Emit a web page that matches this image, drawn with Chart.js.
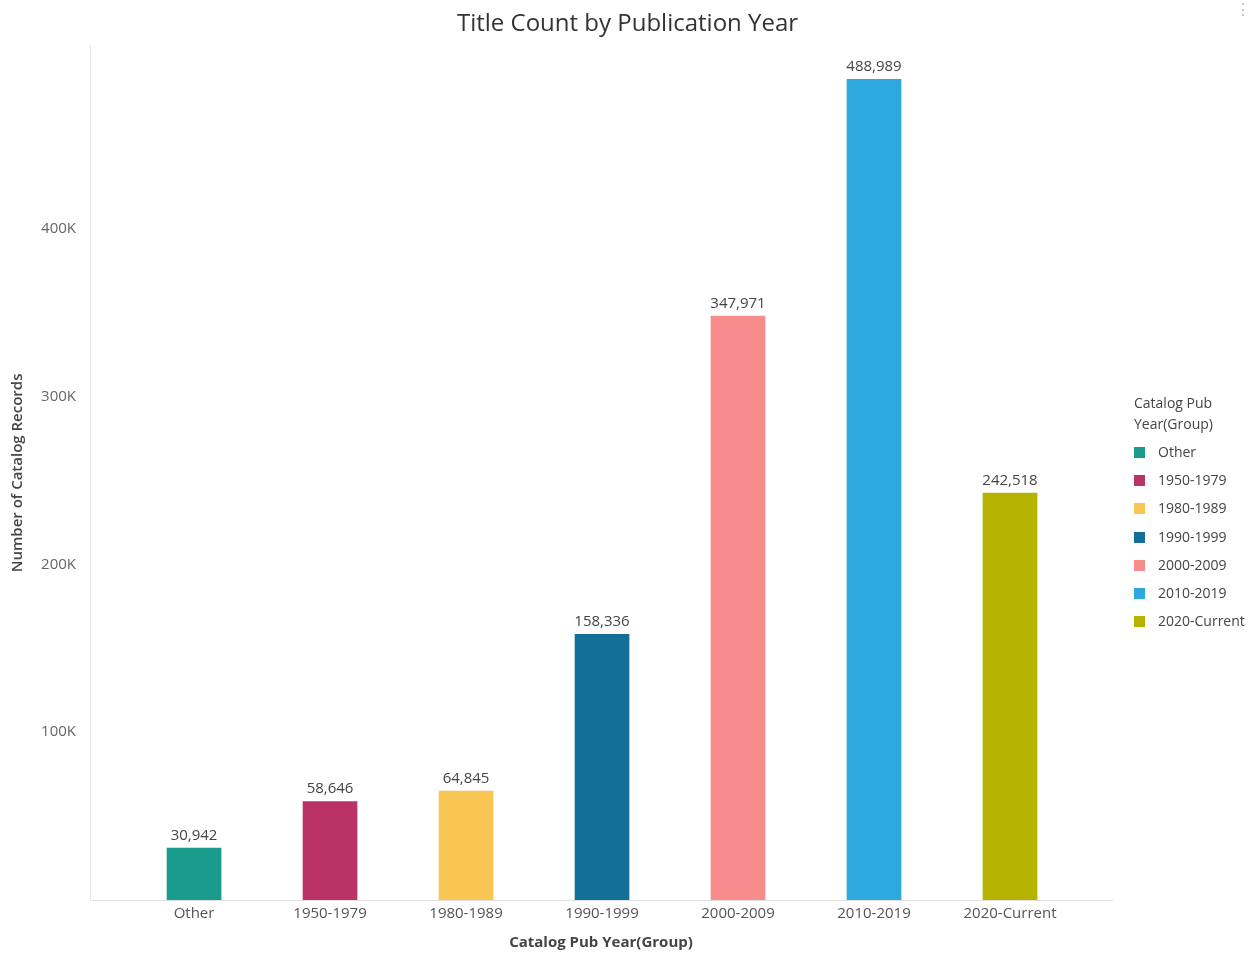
<!DOCTYPE html>
<html>
<head>
<meta charset="utf-8">
<title>Title Count by Publication Year</title>
<script src="https://cdn.jsdelivr.net/npm/chart.js@4.4.1/dist/chart.umd.min.js"></script>
<style>
  html, body { margin: 0; padding: 0; background: #fff; }
  body { width: 1255px; height: 954px; position: relative; overflow: hidden; font-family: "Open Sans", sans-serif; }
  #wrap { position: absolute; left: 0; top: 0; width: 1255px; height: 954px; }
  .legend { position: absolute; left: 1134px; top: 392px; width: 120px; color: #444; font-size: 14px; }
  .legend .ttl { line-height: 21px; width: 100px; margin-bottom: 9px; }
  .legend .item { height: 28.2px; line-height: 17px; white-space: nowrap; }
  .legend .sw { display: inline-block; width: 11px; height: 11px; margin-right: 13px; vertical-align: -1px; }
  .dots { position: absolute; right: 4px; top: -2px; color: #bbb; font-size: 16px; }
</style>
</head>
<body>
<div id="wrap"><canvas id="myChart" width="1255" height="954"></canvas></div>
<div class="legend" id="legend"></div>
<div class="dots">⋮</div>
<script>
// data
const categories = ['Other', '1950-1979', '1980-1989', '1990-1999', '2000-2009', '2010-2019', '2020-Current'];
const counts = [30942, 58646, 64845, 158336, 347971, 488989, 242518];
const colors = ['#1a9c8c', '#bb3366', '#f9c654', '#136f97', '#f78c8c', '#2ea9dd', '#b5b300'];
const yTicks = [100000, 200000, 300000, 400000];
const yTickLabels = ['100K', '200K', '300K', '400K'];

const ctx = document.getElementById('myChart');

// legend on the right
const legend = document.getElementById('legend');
legend.innerHTML = '<div class="ttl">Catalog Pub Year(Group)</div>' +
    categories.map((c, i) => `<div class="item"><span class="sw" style="background:${colors[i]}"></span>${c}</div>`).join('');

// value labels above bars
const barLabels = {
    id: 'barLabels',
    afterDatasetsDraw(chart) {
        const c = chart.ctx;
        const meta = chart.getDatasetMeta(0);
        c.save();
        c.font = '15px "Open Sans"';
        c.fillStyle = '#444';
        c.textAlign = 'center';
        c.textBaseline = 'bottom';
        meta.data.forEach((bar, i) => {
            c.fillText(counts[i].toLocaleString('en-US'), bar.x, bar.y - 5);
        });
        c.restore();
    }
};

new Chart(ctx, {
    type: 'bar',
    data: {
        datasets: [{
            data: categories.map((c, i) => ({ x: i, y: counts[i] })),
            backgroundColor: colors,
            barThickness: 54,
            borderWidth: 0
        }]
    },
    plugins: [barLabels],
    options: {
        responsive: false,
        animation: false,
        layout: { padding: 0 },
        plugins: {
            legend: { display: false },
            tooltip: { enabled: false },
            title: {
                display: true,
                text: 'Title Count by Publication Year',
                color: '#333',
                font: { family: 'Open Sans', size: 24, weight: 'normal' },
                padding: { top: 10, bottom: 7 }
            }
        },
        scales: {
            x: {
                type: 'linear',
                min: -0.765,
                max: 6.75,
                offset: false,
                grid: { display: false, drawTicks: false, offset: false },
                border: { display: true, color: '#e2e2e2', width: 1 },
                afterBuildTicks: (s) => { s.ticks = categories.map((c, i) => ({ value: i })); },
                afterFit: (s) => { s.height = 54; },
                ticks: {
                    autoSkip: false,
                    maxRotation: 0,
                    padding: 5,
                    color: '#555',
                    font: { family: 'Open Sans', size: 15 },
                    callback: (v) => categories[v]
                },
                title: {
                    display: true,
                    text: 'Catalog Pub Year(Group)',
                    color: '#444',
                    font: { family: 'Open Sans', size: 15, weight: 'bold' },
                    padding: { top: 0, bottom: 2 }
                }
            },
            y: {
                min: 0,
                max: 509000,
                grid: { display: false, drawTicks: false },
                border: { display: true, color: '#e6e6e6', width: 1 },
                afterBuildTicks: (s) => { s.ticks = yTicks.map((v) => ({ value: v })); },
                afterFit: (s) => { s.width = 90; },
                ticks: {
                    padding: 14,
                    color: '#666',
                    font: { family: 'Open Sans', size: 15 },
                    callback: (v) => yTickLabels[yTicks.indexOf(v)]
                },
                title: {
                    display: true,
                    text: 'Number of Catalog Records',
                    color: '#444',
                    font: { family: 'Open Sans', size: 15, weight: '600' },
                    padding: { top: 9, bottom: 4 }
                }
            },
            // empty box on the right to keep room for the legend
            side: {
                type: 'linear',
                position: 'right',
                grid: { display: false, drawTicks: false },
                border: { display: false },
                ticks: { display: false },
                afterFit: (s) => { s.width = 143; }
            }
        }
    }
});
</script>
</body>
</html>
